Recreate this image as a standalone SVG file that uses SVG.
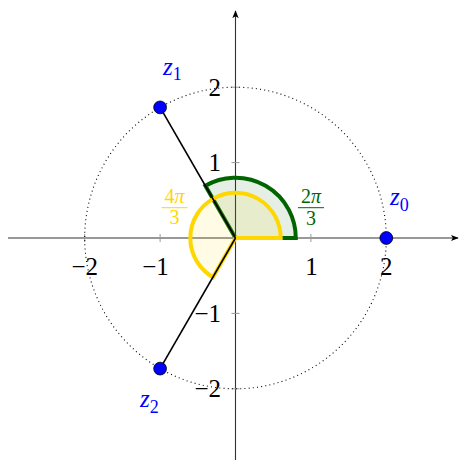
<svg xmlns="http://www.w3.org/2000/svg" width="460" height="462" viewBox="0 0 460 462">
<defs>
<style>
.ax{stroke:#333;stroke-width:1.1;fill:none}
.tick{stroke:#999;stroke-width:1}
.lbl{font-family:"Liberation Serif","DejaVu Serif",serif;font-size:25px;fill:#000}
.zl{font-family:"Liberation Serif","DejaVu Serif",serif;font-size:25px;fill:#0000ff;font-style:italic}
.sub{font-style:normal;font-size:18px}
.fr{font-family:"Liberation Serif","DejaVu Serif",serif;font-size:20px;text-anchor:middle}
.dot{fill:#0000ff;stroke:#000;stroke-width:0.8}
</style>
<marker id="arr" viewBox="0 0 10 10" refX="9" refY="5" markerWidth="8" markerHeight="8" orient="auto" markerUnits="userSpaceOnUse">
<path d="M0,1 L10,5 L0,9 L2.5,5 Z" fill="#000"/>
</marker>
</defs>
<rect width="460" height="462" fill="#fff"/>
<g id="axes">
<line class="ax" x1="8" y1="238" x2="458" y2="238" marker-end="url(#arr)"/>
<line class="ax" x1="235.5" y1="460" x2="235.5" y2="11" marker-end="url(#arr)" stroke="#000"/>
<g class="tick">
<line x1="84.7" y1="234" x2="84.7" y2="242"/>
<line x1="160.1" y1="234" x2="160.1" y2="242"/>
<line x1="310.9" y1="234" x2="310.9" y2="242"/>
<line x1="386.3" y1="234" x2="386.3" y2="242"/>
<line x1="231.5" y1="87.2" x2="239.5" y2="87.2"/>
<line x1="231.5" y1="162.6" x2="239.5" y2="162.6"/>
<line x1="231.5" y1="313.4" x2="239.5" y2="313.4"/>
<line x1="231.5" y1="388.8" x2="239.5" y2="388.8"/>
</g>
<g class="lbl" text-anchor="middle">
<text x="84.7" y="275">−2</text>
<text x="155.5" y="275">−1</text>
<text x="311.5" y="275">1</text>
<text x="386.3" y="275">2</text>
</g>
<g class="lbl" text-anchor="end">
<text x="221" y="96">2</text>
<text x="221" y="171">1</text>
<text x="221" y="322">−1</text>
<text x="221" y="397">−2</text>
</g>
</g>
<g id="circle">
<circle cx="235.5" cy="238" r="150.8" fill="none" stroke="#000" stroke-width="1.1" stroke-dasharray="1 3.2"/>
</g>
<g id="angle-2pi3">
<path d="M235.5 238 L295.8 238 A60.3 60.3 0 0 0 205.35 185.78 Z" fill="#006400" fill-opacity="0.1" stroke="#006400" stroke-width="4" stroke-linejoin="miter"/>
<text class="fr" x="311" y="203" fill="#006400">2<tspan font-style="italic">π</tspan></text>
<line x1="298" y1="207.7" x2="324" y2="207.7" stroke="#006400" stroke-width="1"/>
<text class="fr" x="311" y="225" fill="#006400">3</text>
</g>
<g id="angle-4pi3">
<path d="M235.5 238 L280.7 238 A45.2 45.2 0 1 0 212.9 277.15 Z" fill="#ffd700" fill-opacity="0.1" stroke="#ffd700" stroke-width="4" stroke-linejoin="miter"/>
<text class="fr" x="174.5" y="203" fill="#ffd700">4<tspan font-style="italic">π</tspan></text>
<line x1="161.5" y1="207.7" x2="187.5" y2="207.7" stroke="#ffd700" stroke-width="1"/>
<text class="fr" x="174.5" y="224" fill="#ffd700">3</text>
</g>
<g id="connectors">
<line x1="235.5" y1="238" x2="160.1" y2="107.4" stroke="#000" stroke-width="1.6"/>
<line x1="235.5" y1="238" x2="160.1" y2="368.6" stroke="#000" stroke-width="1.6"/>
</g>
<g id="z0">
<circle class="dot" cx="386.3" cy="238" r="6.4"/>
<text class="zl" x="390" y="205">z<tspan class="sub" dy="6">0</tspan></text>
</g>
<g id="z1">
<circle class="dot" cx="160.1" cy="107.4" r="6.4"/>
<text class="zl" x="163" y="75">z<tspan class="sub" dy="5">1</tspan></text>
</g>
<g id="z2">
<circle class="dot" cx="160.1" cy="368.6" r="6.4"/>
<text class="zl" x="140" y="407">z<tspan class="sub" dy="6">2</tspan></text>
</g>
</svg>
